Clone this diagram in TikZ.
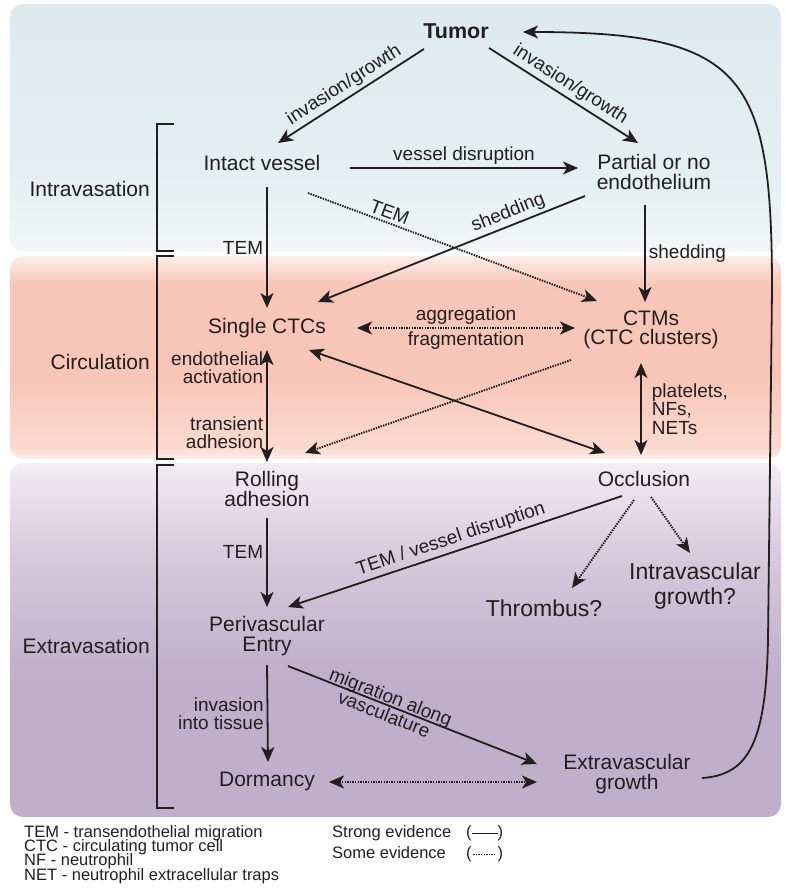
\documentclass[tikz,border=0pt]{standalone}
\usepackage{fontspec}
\setmainfont{Liberation Sans}
\usepackage{xcolor}
\usetikzlibrary{arrows.meta,positioning}
\definecolor{inkdark}{HTML}{231F20}
\definecolor{intratop}{HTML}{DDEAED}
\definecolor{intramid}{HTML}{E6EFF1}
\definecolor{intralow}{HTML}{F2F6F7}
\definecolor{circtop}{HTML}{FDEEEA}
\definecolor{circmain}{HTML}{F8C6B8}
\definecolor{circlow}{HTML}{FBD9CF}
\definecolor{circedge}{HTML}{FDEDE8}
\definecolor{extratop}{HTML}{F2ECF3}
\definecolor{extramid}{HTML}{D6CADC}
\definecolor{extralow}{HTML}{C1AECA}
\pgfdeclareverticalshading{intrashade}{100bp}{color(0bp)=(intralow); color(25bp)=(intralow); color(38bp)=(intramid); color(75bp)=(intratop); color(100bp)=(intratop)}
\pgfdeclareverticalshading{circshade}{100bp}{color(0bp)=(circedge); color(25bp)=(circedge); color(28bp)=(circlow); color(45bp)=(circmain); color(68bp)=(circmain); color(75bp)=(circtop); color(100bp)=(circtop)}
\pgfdeclareverticalshading{extrashade}{100bp}{color(0bp)=(extralow); color(25bp)=(extralow); color(45bp)=(extralow); color(62bp)=(extramid); color(75bp)=(extratop); color(100bp)=(extratop)}
\lineskiplimit=-30pt\relax
\normallineskiplimit=-30pt\relax
\tikzset{
  stage/.style={align=center, text=inkdark, inner sep=2pt, font=\fontsize{21}{19.5}\selectfont},
  fate/.style={stage, font=\fontsize{23}{25}\selectfont},
  steplabel/.style={text=inkdark, inner sep=3pt, font=\fontsize{19}{18.5}\selectfont},
  phase/.style={text=inkdark, anchor=east, inner sep=0pt, font=\fontsize{21}{21}\selectfont},
  keytext/.style={text=inkdark, align=left, inner sep=0pt, font=\fontsize{16.5}{14.4}\selectfont},
  strong/.style={->, line width=1.8pt, draw=inkdark},
  weak/.style={->, line width=1.9pt, draw=inkdark, dash pattern=on 1.5pt off 1.1pt},
  bracket/.style={line width=1.4pt, draw=inkdark},
  >={Stealth[length=15pt, width=13pt, inset=4pt]}
}
\newcommand{\solidkey}{\rule[0.32ex]{26pt}{1.4pt}}
\newcommand{\dottedkey}{\leaders\hbox to 2.6pt{\hss\rule[0.32ex]{1.3pt}{1.3pt}\hss}\hskip 26pt}

\begin{document}
\begin{tikzpicture}[x=1pt, y=-1pt, on grid]
  \useasboundingbox (0,0) rectangle (786,891);
  % phase bands
  \shade[shading=intrashade, rounded corners=13pt] (10,4) rectangle (781,252);
  \shade[shading=circshade, rounded corners=13pt] (10,256) rectangle (781,459);
  \shade[shading=extrashade, rounded corners=13pt] (10,463) rectangle (781,817);
  \draw[bracket] (174,124) -- (157,124) -- (157,251) -- (174,251);
  \draw[bracket] (174,256) -- (157,256) -- (157,459) -- (174,459);
  \draw[bracket] (174,465) -- (157,465) -- (157,808) -- (174,808);
  \node[phase] (intravasation) at (150,189) {Intravasation};
  \node[phase] (circulation) at (150,362) {Circulation};
  \node[phase] (extravasation) at (150,646) {Extravasation};

  % stages
  \node[stage, font=\fontsize{21.5}{21}\selectfont\bfseries] (tumor) at (456,31) {Tumor};
  \node[stage, below left=132pt and 194pt of tumor] (intact) {Intact vessel};
  \node[stage, below right=9pt and 392pt of intact] (partial) {Partial or no\\endothelium};
  \node[stage, below right=165pt and 5pt of intact] (single) {Single CTCs};
  \node[stage, below right=2pt and 384pt of single] (ctm) {CTMs\\(CTC clusters)};
  \node[stage, below=161pt of single] (rolling) {Rolling\\adhesion};
  \node[stage, above right=10pt and 377pt of rolling] (occl) {Occlusion};
  \node[stage, below=147pt of rolling] (peri) {Perivascular\\Entry};
  \node[fate, above right=28pt and 277pt of peri] (thromb) {Thrombus?};
  \node[fate, below right=107pt and 51pt of occl] (intravasc) {Intravascular\\growth?};
  \node[stage, below=145pt of peri] (dorm) {Dormancy};
  \node[stage, above right=7pt and 360pt of dorm] (extra) {Extravascular\\growth};

  % transitions
  \draw[strong, <-] ([shift={(16,-20)}]intact.center) -- ([shift={(-32,18)}]tumor.center)
    node[midway, sloped, above, steplabel] (lblinv1) {invasion/growth};
  \draw[strong] ([shift={(33,17)}]tumor.center) -- ([shift={(-16,-29)}]partial.center)
    node[midway, sloped, above, steplabel] (lblinv2) {invasion/growth};
  \draw[strong] ([shift={(88,5)}]intact.center) -- ([shift={(-76,-4)}]partial.center)
    node[midway, above, steplabel] (lbldisr) {vessel disruption};
  \draw[weak] ([shift={(46,30)}]intact.center) -- ([shift={(-54,-29)}]ctm.center)
    node[pos=0.27, sloped, above, steplabel] (lbltem1) {TEM};
  \draw[strong] ([shift={(5,24)}]intact.center) -- ([shift={(0,-20)}]single.center)
    node[midway, left, steplabel] (lbltem2) {TEM};
  \draw[strong, <-] ([shift={(51,-26)}]single.center) -- ([shift={(-69,24)}]partial.center)
    node[pos=0.73, sloped, above, steplabel] (lblshed1) {shedding};
  \draw[strong] ([shift={(-9,33)}]partial.center) -- ([shift={(-6,-28)}]ctm.center)
    node[midway, right, steplabel] (lblshed2) {shedding};
  \draw[weak, <->] ([shift={(90,0)}]single.center) -- ([shift={(-76,-2)}]ctm.center)
    node[midway, above, steplabel] (lblaggr) {aggregation}
    node[midway, below, steplabel] (lblfrag) {fragmentation};
  \draw[weak] ([shift={(-80,30)}]ctm.center) -- ([shift={(38,-36)}]rolling.center);
  \draw[strong, <->] ([shift={(42,22)}]single.center) -- ([shift={(-39,-26)}]occl.center);
  \draw[strong, <->] ([shift={(0,22)}]single.center) -- ([shift={(0,-27)}]rolling.center)
    node[pos=0.16, left, steplabel, align=right] (lblendo) {endothelial\\activation}
    node[pos=0.74, left, steplabel, align=right] (lbltrans) {transient\\adhesion};
  \draw[strong, <->] ([shift={(-10,33)}]ctm.center) -- ([shift={(-3,-24)}]occl.center)
    node[midway, right=7pt, steplabel, align=left] (lblplat) {platelets,\\NFs,\\NETs};
  \draw[strong] ([shift={(0,29)}]rolling.center) -- ([shift={(0,-29)}]peri.center)
    node[pos=0.38, left, steplabel] (lbltem3) {TEM};
  \draw[strong, <-] ([shift={(21,-29)}]peri.center) -- ([shift={(-22,17)}]occl.center)
    node[midway, sloped, above, steplabel] (lbltem4) {TEM / vessel disruption};
  \draw[weak] ([shift={(-10,21)}]occl.center) -- ([shift={(28,-20)}]thromb.center);
  \draw[weak] ([shift={(7,18)}]occl.center) -- ([shift={(-5,-33)}]intravasc.center);
  \draw[strong] ([shift={(0,29)}]peri.center) -- ([shift={(1,-19)}]dorm.center)
    node[midway, left, steplabel, align=right] (lblinto) {invasion\\into tissue};
  \draw[strong] ([shift={(21,30)}]peri.center) -- ([shift={(-90,-10)}]extra.center)
    node[pos=0.4, sloped, steplabel, align=center] (lblmigr) {migration along\\vasculature};
  \draw[weak, <->] ([shift={(62,1)}]dorm.center) -- ([shift={(-90,8)}]extra.center);
  \draw[strong] ([shift={(75,4)}]extra.center) .. controls (750,775) and (766,740) .. (768,640)
    -- (772,290) .. controls (772,75) and (745,32) .. ([shift={(67,1)}]tumor.center);

  % key
  \node[keytext, anchor=north west] (abbrev) at (24,825)
    {TEM - transendothelial migration\\CTC - circulating tumor cell\\NF - neutrophil\\NET - neutrophil extracellular traps};
  \node[keytext, anchor=west] (strongkey) at (332,833) {\makebox[134pt][l]{Strong evidence}(\solidkey)};
  \node[keytext, anchor=west] (weakkey) at (332,854) {\makebox[134pt][l]{Some evidence}(\dottedkey)};
\end{tikzpicture}
\end{document}
